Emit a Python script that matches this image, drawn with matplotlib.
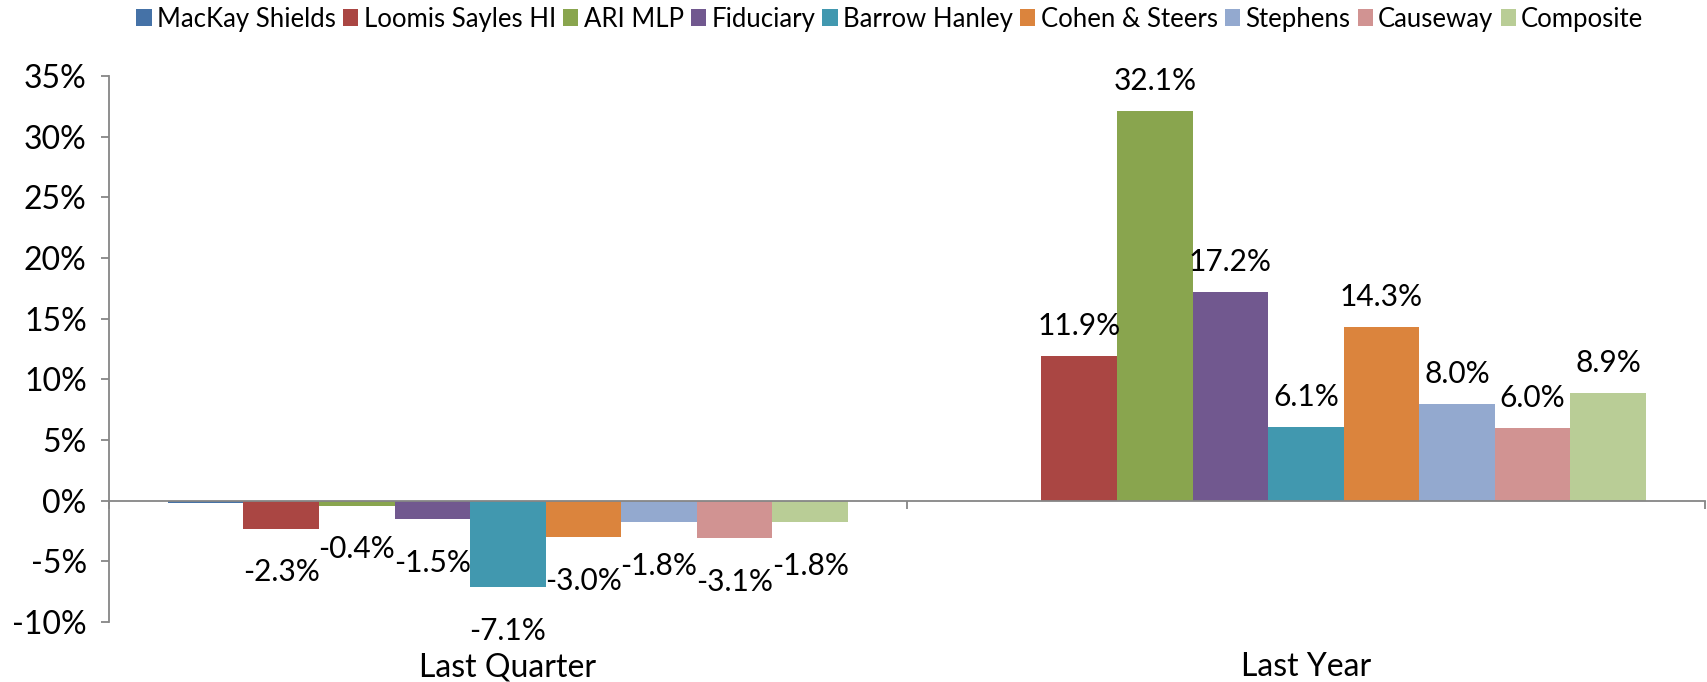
import numpy as np
import matplotlib
matplotlib.use("Agg")
import matplotlib.pyplot as plt
from matplotlib.ticker import FuncFormatter, FixedLocator

plt.rcParams['font.family'] = ['Lato', 'DejaVu Sans']
plt.rcParams['axes.unicode_minus'] = False

# --------------------------
# data (percent)
# --------------------------
categories = ["Last Quarter", "Last Year"]
managers = ["MacKay Shields", "Loomis Sayles HI", "ARI MLP", "Fiduciary",
            "Barrow Hanley", "Cohen & Steers", "Stephens", "Causeway", "Composite"]
mackay = [-0.2, np.nan]
loomis = [-2.3, 11.9]
ari_mlp = [-0.4, 32.1]
fiduciary = [-1.5, 17.2]
barrow = [-7.1, 6.1]
cohen = [-3.0, 14.3]
stephens = [-1.8, 8.0]
causeway = [-3.1, 6.0]
composite = [-1.8, 8.9]
series = [mackay, loomis, ari_mlp, fiduciary, barrow, cohen, stephens, causeway, composite]
labelled = [False, True, True, True, True, True, True, True, True]
y_ticks = [-10, -5, 0, 5, 10, 15, 20, 25, 30, 35]

colors = ['#4572A7', '#AA4643', '#89A54E', '#71588F', '#4198AF',
          '#DB843D', '#93A9CF', '#D19392', '#B9CD96']
axis_gray = '#868686'

# --------------------------
# plot
# --------------------------
fig = plt.figure(figsize=(17.08, 6.82), dpi=100)
ax = fig.add_axes([0.0638, 0.088, 0.9344, 0.8006])

x = np.arange(len(categories))
w = 0.0947
n = len(series)
for i, (name, vals) in enumerate(zip(managers, series)):
    pos = x + (i - (n - 1) / 2) * w
    bars = ax.bar(pos, vals, width=w, color=colors[i], label=name, linewidth=0)
    if not labelled[i]:
        continue
    for b, v in zip(bars, vals):
        if np.isnan(v):
            continue
        off = 15 if v >= 0 else -38
        ax.annotate(f"{v:.1f}%", (b.get_x() + b.get_width() / 2, v),
                    xytext=(0, off), textcoords='offset points',
                    ha='center', va='baseline', fontsize=21.5, color='black')

ax.set_xlim(-0.5, 1.5)
ax.set_ylim(-10, 35)
ax.yaxis.set_major_locator(FixedLocator(y_ticks))
ax.yaxis.set_major_formatter(FuncFormatter(lambda v, p: f"{v:.0f}%"))
ax.tick_params(axis='y', labelsize=23, length=6, width=1.3, color=axis_gray, pad=10)

# category axis sits on the zero line
ax.spines['bottom'].set_position(('data', 0))
ax.spines['bottom'].set_color(axis_gray)
ax.spines['bottom'].set_linewidth(1.3)
ax.spines['left'].set_color(axis_gray)
ax.spines['left'].set_linewidth(1.3)
ax.spines['top'].set_visible(False)
ax.spines['right'].set_visible(False)
ax.xaxis.set_major_locator(FixedLocator([-0.5, 0.5, 1.5]))
ax.tick_params(axis='x', direction='out', length=6, width=1.3, color=axis_gray,
               labelbottom=False)
for xi, cat in zip(x, categories):
    ax.text(xi, -0.055, cat, transform=ax.get_xaxis_transform(),
            ha='center', va='top', fontsize=23)

fig.legend(loc='center', bbox_to_anchor=(0.521, 0.972), ncol=n, frameon=False,
           fontsize=18.5, handlelength=0.6, handleheight=0.6, handletextpad=0.2,
           columnspacing=0.28, borderaxespad=0)

fig.savefig("out.png", dpi=100)
